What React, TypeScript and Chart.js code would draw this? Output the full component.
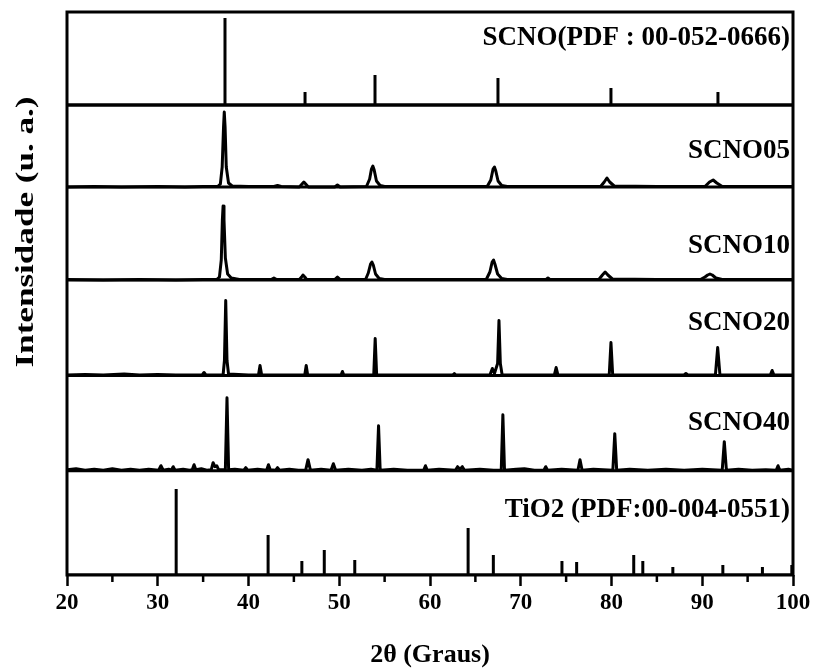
import React, { useEffect, useRef } from "react";
import { Chart, registerables } from "chart.js";
Chart.register(...registerables);

// ---------- data ----------
const xTickValues = [20, 30, 40, 50, 60, 70, 80, 90, 100];
const xMinorTickValues = [25, 35, 45, 55, 65, 75, 85, 95];

const panelNames = [
  "SCNO(PDF : 00-052-0666)",
  "SCNO05",
  "SCNO10",
  "SCNO20",
  "SCNO40",
  "TiO2 (PDF:00-004-0551)",
];

const yTitle = "Intensidade (u. a.)";
const xTitle = "2θ (Graus)";

// reference pattern SCNO (PDF 00-052-0666)
const scnoRefTwoTheta = [37.41, 46.23, 53.94, 67.49, 79.94, 91.73];
const scnoRefIntensity = [87, 13, 30, 27, 17, 13];

// reference pattern TiO2 (PDF 00-004-0551)
const tio2TwoTheta = [32.03, 42.16, 45.88, 48.35, 51.71, 64.2, 66.98, 74.54, 76.16, 82.45, 83.45, 86.76, 92.27, 96.63, 99.87];
const tio2Intensity = [86, 40, 14, 25, 15, 47, 20, 14, 13, 20, 14, 8, 10, 8, 10];

// measured patterns: [2θ, intensity]
const scno05: [number, number][] = [
  [20, 0], [23, 0.4], [26, 0], [30, 0.4], [33, 0], [35, 0.4], [36.6, 0.5], [36.9, 3], [37.1, 20], [37.25, 60], [37.33, 75],
  [37.42, 60], [37.55, 20], [37.8, 4], [38.2, 1], [40, 0.5], [42.8, 0.5], [43.2, 1.5], [43.6, 0.5],
  [45.6, 0], [45.9, 3], [46.1, 5], [46.3, 3], [46.6, 0], [49.5, 0], [49.8, 2], [50.1, 0], [53.0, 0.5],
  [53.35, 8], [53.55, 18], [53.7, 21], [53.85, 17], [54.1, 6], [54.5, 1.5], [55, 0.5], [60, 0.5],
  [66.3, 0.5], [66.7, 7], [66.95, 18], [67.1, 20], [67.25, 16], [67.5, 6], [67.9, 1.5], [68.5, 0.5],
  [72, 0.5], [78.8, 0.5], [79.2, 5], [79.5, 9], [79.8, 5], [80.3, 1], [85, 0.5], [90.3, 0.5],
  [90.8, 5], [91.2, 7], [91.6, 4], [92.2, 0.5], [100, 0.5],
];

const scno10: [number, number][] = [
  [20, 0.5], [24, 0], [28, 0.5], [32, 0], [35, 0.5], [36.5, 0.5], [36.8, 3], [37.0, 20], [37.12, 60], [37.2, 74],
  [37.3, 60], [37.45, 22], [37.7, 6], [38.1, 2], [39, 0.5], [42.5, 0.5], [42.8, 2], [43.1, 0.5],
  [45.6, 0.5], [45.85, 3], [46.0, 5], [46.2, 3], [46.4, 0.5], [49.5, 0.5], [49.8, 3], [50.1, 0.5],
  [52.9, 0.5], [53.2, 7], [53.45, 16], [53.6, 18], [53.75, 15], [54.0, 6], [54.4, 1.5], [55, 0.5],
  [60, 0.5], [66.2, 0.5], [66.6, 8], [66.85, 18], [67.0, 20], [67.15, 16], [67.45, 6], [67.9, 1.5],
  [68.5, 0.5], [72.8, 0.5], [73.0, 2], [73.2, 0.5], [78.6, 0.5], [79.0, 5], [79.3, 8], [79.6, 5],
  [80.1, 1], [85, 0.5], [89.8, 0.5], [90.3, 3], [90.6, 5], [90.85, 6], [91.1, 5], [91.5, 2],
  [92.2, 0.5], [100, 0.5],
];

const scno20: [number, number][] = [
  [20, 0.5], [22, 1], [24, 0.5], [26.3, 1.5], [28, 0.5], [30, 1], [32, 0.5], [34.9, 0.5], [35.1, 3], [35.3, 0.5],
  [37.2, 0.5], [37.35, 15], [37.49, 75], [37.63, 15], [37.8, 1.5], [40, 0.5], [41.1, 0.5], [41.27, 10],
  [41.45, 0.5], [46.2, 0.5], [46.36, 10], [46.52, 0.5], [50.2, 0.5], [50.35, 4], [50.5, 0.5],
  [53.8, 0.5], [53.96, 37], [54.12, 0.5], [58, 0.5], [62.5, 0.5], [62.68, 2], [62.85, 0.5],
  [66.6, 0.5], [66.87, 7], [67.1, 2], [67.45, 12], [67.6, 55], [67.75, 12], [67.95, 0.5],
  [73.7, 0.5], [73.9, 8], [74.1, 0.5], [79.75, 0.5], [79.94, 33], [80.13, 0.5], [85, 0.5],
  [88.0, 0.5], [88.2, 2], [88.4, 0.5], [91.45, 0.5], [91.7, 28], [91.95, 0.5], [97.5, 0.5],
  [97.7, 5], [97.9, 0.5], [100, 0.5],
];

const scno40: [number, number][] = [
  [20, 1], [21, 2], [22, 0.5], [23, 1.5], [24, 0.5], [25, 2], [26, 0.5], [27, 1.5], [28, 0.5],
  [29, 1.5], [30.1, 0.5], [30.35, 5], [30.6, 0.5], [31.2, 1.5], [31.5, 0.5], [31.7, 4], [31.9, 0.5],
  [32.8, 1.5], [33.5, 0.5], [33.8, 1], [34.0, 6], [34.2, 1], [34.8, 2], [35.4, 0.5], [35.9, 1],
  [36.1, 8], [36.3, 4], [36.5, 5], [36.7, 1], [37.45, 1], [37.63, 73], [37.81, 1], [38.5, 1.5],
  [39.5, 0.5], [39.7, 3], [39.9, 0.5], [41, 1.5], [42.0, 0.5], [42.2, 6], [42.4, 1], [43.0, 0.5],
  [43.2, 3], [43.4, 0.5], [44.5, 1.5], [45.5, 0.5], [46.3, 0.5], [46.56, 11], [46.82, 0.5], [48, 1.5],
  [49.1, 0.5], [49.35, 7], [49.6, 0.5], [51, 1.5], [52.5, 0.5], [53.5, 1.5], [54.15, 0.5], [54.33, 45],
  [54.51, 0.5], [56, 1.5], [57.5, 0.5], [59.3, 0.5], [59.5, 5], [59.7, 0.5], [61, 1.5], [62.8, 0.5],
  [63.04, 4], [63.3, 1.5], [63.56, 4], [63.8, 0.5], [65.5, 1.5], [67.0, 0.5], [67.85, 0.5], [68.03, 56],
  [68.21, 0.5], [69.5, 1.5], [70.4, 2], [71.5, 0.5], [72.55, 0.5], [72.75, 4], [72.95, 0.5], [74.5, 1.5],
  [76.3, 0.5], [76.53, 11], [76.76, 0.5], [78, 1.5], [80.15, 0.5], [80.36, 37], [80.57, 0.5], [82, 1.5],
  [84, 0.5], [86, 1.5], [88, 0.5], [90, 1.5], [92.2, 0.5], [92.43, 29], [92.66, 0.5], [94, 1.5],
  [95.5, 0.5], [97, 1], [98.15, 0.5], [98.35, 5], [98.55, 0.5], [99.5, 1.5], [100, 0.5],
];

// ---------- layout (stack offsets, label anchors) ----------
const Y_MAX = 563;
const X_AXIS_HEIGHT = 96;
const panelBase = [470, 388, 295, 199.5, 104.3, 0];
const labelAnchor = [537, 424, 329, 252, 152, 65];

const FONT = "'Liberation Serif', 'Times New Roman', serif";

function sticks(pos: number[], inten: number[], base: number) {
  const pts: { x: number; y: number }[] = [{ x: 20, y: base }];
  pos.forEach((p, i) => {
    pts.push({ x: p, y: base }, { x: p, y: base + inten[i] }, { x: p, y: base });
  });
  pts.push({ x: 100, y: base });
  return pts;
}

function spectrum(pairs: [number, number][], base: number) {
  return pairs.map(([x, v]) => ({ x, y: base + v }));
}

const framePlugin = {
  id: "frame",
  afterDatasetsDraw(chart: any) {
    const { ctx, chartArea: a, scales } = chart;
    ctx.save();
    ctx.strokeStyle = "#000";
    ctx.lineWidth = 3;
    ctx.strokeRect(a.left, a.top, a.right - a.left, a.bottom - a.top);
    ctx.lineWidth = 2.5;
    for (const v of xMinorTickValues) {
      const px = scales.x.getPixelForValue(v);
      ctx.beginPath();
      ctx.moveTo(px, a.bottom);
      ctx.lineTo(px, a.bottom + 7);
      ctx.stroke();
    }
    ctx.fillStyle = "#000";
    ctx.font = `bold 27px ${FONT}`;
    ctx.textAlign = "right";
    ctx.textBaseline = "middle";
    panelNames.forEach((n, i) => {
      ctx.fillText(n, a.right - 3, scales.y.getPixelForValue(labelAnchor[i]));
    });
    // y axis title (stretched along its length like the source figure)
    ctx.save();
    ctx.translate(26, scales.y.getPixelForValue(343));
    ctx.rotate(-Math.PI / 2);
    ctx.scale(1.35, 1);
    ctx.font = `bold 26px ${FONT}`;
    ctx.textAlign = "center";
    ctx.textBaseline = "middle";
    ctx.fillText(yTitle, 0, 0);
    ctx.restore();
    ctx.restore();
  },
};

export default function App() {
  const ref = useRef<HTMLCanvasElement>(null);
  useEffect(() => {
    if (!ref.current) return;
    const lineStyle = {
      borderColor: "#000",
      borderWidth: 3,
      pointRadius: 0,
      tension: 0,
      fill: false,
    };
    const datasets: any[] = [];
    panelBase.slice(0, 5).forEach((b) => {
      datasets.push({ ...lineStyle, data: [{ x: 20, y: b }, { x: 100, y: b }], borderJoinStyle: "miter" });
    });
    datasets.push({ ...lineStyle, data: sticks(scnoRefTwoTheta, scnoRefIntensity, panelBase[0]), borderJoinStyle: "bevel", borderCapStyle: "butt" });
    datasets.push({ ...lineStyle, data: spectrum(scno05, panelBase[1]), borderJoinStyle: "round" });
    datasets.push({ ...lineStyle, data: spectrum(scno10, panelBase[2]), borderJoinStyle: "round" });
    datasets.push({ ...lineStyle, data: spectrum(scno20, panelBase[3]), borderJoinStyle: "round" });
    datasets.push({ ...lineStyle, data: spectrum(scno40, panelBase[4]), borderJoinStyle: "round" });
    datasets.push({ ...lineStyle, data: sticks(tio2TwoTheta, tio2Intensity, panelBase[5]), borderJoinStyle: "bevel", borderCapStyle: "butt" });

    const chart = new Chart(ref.current, {
      type: "line",
      data: { datasets },
      options: {
        animation: false,
        responsive: false,
        parsing: false,
        layout: { padding: { left: 67, top: 12, right: 25, bottom: 0 } },
        plugins: { legend: { display: false }, tooltip: { enabled: false } },
        scales: {
          x: {
            type: "linear",
            min: 20,
            max: 100,
            afterBuildTicks: (s: any) => {
              s.ticks = xTickValues.map((v) => ({ value: v }));
            },
            afterFit: (s: any) => {
              s.height = X_AXIS_HEIGHT;
            },
            ticks: {
              color: "#000",
              font: { family: FONT, size: 23, weight: "bold" },
              padding: 3,
              maxRotation: 0,
              autoSkip: false,
            },
            grid: {
              display: true,
              drawOnChartArea: false,
              drawTicks: true,
              tickLength: 11,
              tickWidth: 2.5,
              tickColor: "#000",
            },
            border: { display: false },
            title: {
              display: true,
              text: xTitle,
              color: "#000",
              font: { family: FONT, size: 26, weight: "bold" },
              padding: { top: 18, bottom: 0 },
            },
          },
          y: {
            type: "linear",
            display: false,
            min: 0,
            max: Y_MAX,
          },
        },
      } as any,
      plugins: [framePlugin],
    });
    return () => chart.destroy();
  }, []);
  return (
    <div style={{ position: "fixed", left: 0, top: 0, width: 818, height: 671, background: "#fff" }}>
      <canvas ref={ref} width={818} height={671} style={{ display: "block" }} />
    </div>
  );
}
